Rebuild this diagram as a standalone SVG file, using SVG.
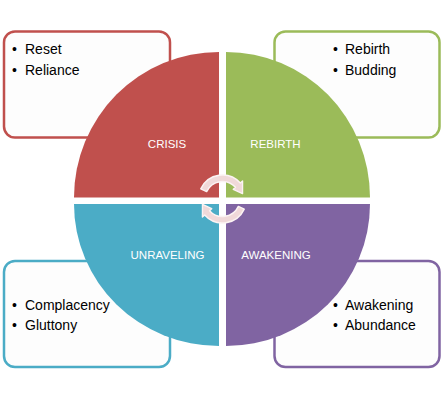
<svg xmlns="http://www.w3.org/2000/svg" xmlns:xlink="http://www.w3.org/1999/xlink" width="442" height="403" viewBox="0 0 442 403">
<style>
.box{fill:#fdfdfd;stroke-width:2.5}
.item{font-family:"Liberation Sans",Arial,sans-serif;font-size:14px;fill:#000}
.lbl{font-family:"Liberation Sans",Arial,sans-serif;font-size:11.5px;fill:#fff;text-anchor:middle}
.arr{fill:#f0d9d9;stroke:#fbf3f3;stroke-width:1.4;stroke-linejoin:round}
</style>
<defs>
<path id="arr" class="arr" d="M -21.75 -10.14 A 24 24 0 0 1 17.84 -16.06 L 20.06 -18.07 L 20.04 -5.37 L 10.78 -9.70 L 13.00 -11.71 A 17.5 17.5 0 0 0 -15.86 -7.40 Z"/>
</defs>
<rect width="442" height="403" fill="#fff"/>

<g id="box-crisis">
<rect class="box" x="4" y="31.5" width="166" height="106" rx="11" stroke="#c0504d"/>
<text class="item" x="12" y="54">•</text><text class="item" x="25" y="54">Reset</text>
<text class="item" x="12" y="74.5">•</text><text class="item" x="25" y="74.5">Reliance</text>
</g>
<g id="box-rebirth">
<rect class="box" x="274.5" y="31.5" width="165" height="106" rx="11" stroke="#9bbb59"/>
<text class="item" x="333" y="54">•</text><text class="item" x="345" y="54">Rebirth</text>
<text class="item" x="333" y="74.5">•</text><text class="item" x="345" y="74.5">Budding</text>
</g>
<g id="box-unraveling">
<rect class="box" x="4" y="261" width="166" height="106" rx="11" stroke="#4bacc6"/>
<text class="item" x="12" y="309.5">•</text><text class="item" x="25" y="309.5">Complacency</text>
<text class="item" x="12" y="330">•</text><text class="item" x="25" y="330">Gluttony</text>
</g>
<g id="box-awakening">
<rect class="box" x="274.5" y="261" width="165" height="106" rx="11" stroke="#8064a2"/>
<text class="item" x="333" y="309.5">•</text><text class="item" x="345" y="309.5">Awakening</text>
<text class="item" x="333" y="330">•</text><text class="item" x="345" y="330">Abundance</text>
</g>

<g id="crisis">
<path d="M 219 197.5 L 74 197.5 A 145 145.5 0 0 1 219 52 Z" fill="#c0504d"/>
<text class="lbl" x="167" y="148">CRISIS</text>
</g>
<g id="rebirth">
<path d="M 226 197.5 L 226 52 A 144 145.5 0 0 1 370 197.5 Z" fill="#9bbb59"/>
<text class="lbl" x="275.5" y="148">REBIRTH</text>
</g>
<g id="unraveling">
<path d="M 219 204 L 219 346 A 145 142 0 0 1 74 204 Z" fill="#4bacc6"/>
<text class="lbl" x="167.5" y="259">UNRAVELING</text>
</g>
<g id="awakening">
<path d="M 226 204 L 370 204 A 144 142 0 0 1 226 346 Z" fill="#8064a2"/>
<text class="lbl" x="276" y="259">AWAKENING</text>
</g>

<g id="connectors" transform="translate(222.5,199)">
<use xlink:href="#arr"/>
<use xlink:href="#arr" transform="rotate(180)"/>
</g>
</svg>
